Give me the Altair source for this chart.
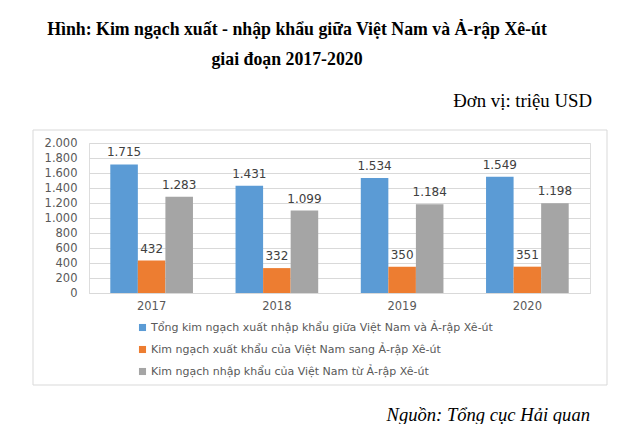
import altair as alt
import pandas as pd

years = ["2017", "2018", "2019", "2020"]
series = [
    "Tổng kim ngạch xuất nhập khẩu giữa Việt Nam và Ả-rập Xê-út",
    "Kim ngạch xuất khẩu của Việt Nam sang Ả-rập Xê-út",
    "Kim ngạch nhập khẩu của Việt Nam từ Ả-rập Xê-út",
]
total = [1715, 1431, 1534, 1549]
export = [432, 332, 350, 351]
imports = [1283, 1099, 1184, 1198]
colors = ["#5B9BD5", "#ED7D31", "#A5A5A5"]

rows = []
for i, y in enumerate(years):
    for s, vals in zip(series, [total, export, imports]):
        rows.append({"year": y, "series": s, "value": vals[i]})
df = pd.DataFrame(rows)

W, H = 501, 150
one = alt.Data(values=[{"k": 1}])
SANS = "DejaVu Sans"

box = alt.Chart(one).mark_rect(fillOpacity=0, stroke="#d9d9d9", strokeWidth=1).encode(
    x=alt.value(-56), x2=alt.value(518), y=alt.value(-13), y2=alt.value(242)
)

fmt = "replace(format(datum.value, ','), ',', '.')"

base = alt.Chart(df).encode(
    x=alt.X("year:N", sort=years, title=None,
            scale=alt.Scale(paddingInner=0.34, paddingOuter=0.17),
            axis=alt.Axis(labelAngle=0, ticks=False, domainColor="#d9d9d9",
                          labelColor="#595959", labelFontSize=11.5, labelFont=SANS,
                          labelPadding=7)),
    xOffset=alt.XOffset("series:N", sort=series, scale=alt.Scale(paddingInner=0, paddingOuter=0)),
    y=alt.Y("value:Q", title=None, scale=alt.Scale(domain=[0, 2000]),
            axis=alt.Axis(values=list(range(0, 2001, 200)), labelExpr=fmt, domain=False,
                          ticks=False, gridColor="#d9d9d9", labelColor="#595959",
                          labelFontSize=11.5, labelFont=SANS, labelPadding=12)),
)

bars = base.mark_bar().encode(
    color=alt.Color("series:N", sort=series,
                    scale=alt.Scale(domain=series, range=colors),
                    legend=alt.Legend(orient="none", legendX=48, legendY=179, title=None,
                                      symbolType="square", symbolSize=50, symbolStrokeWidth=0,
                                      labelFontSize=11, labelFont=SANS,
                                      labelColor="#595959", rowPadding=10, labelLimit=600,
                                      padding=0, labelOffset=3))
)

labels = base.transform_calculate(
    lab="replace(format(datum.value, ','), ',', '.')"
).mark_text(baseline="bottom", dy=-5, fontSize=12, font=SANS, color="#404040").encode(
    text="lab:N"
)

def txt(s, x, y, size, align="center", bold=False, italic=False):
    return alt.Chart(one).mark_text(
        text=s, align=align, baseline="middle", font="Liberation Serif", fontSize=size,
        fontWeight="bold" if bold else "normal", fontStyle="italic" if italic else "normal",
        color="black"
    ).encode(x=alt.value(x), y=alt.value(y))

t1 = txt("Hình: Kim ngạch xuất - nhập khẩu giữa Việt Nam và Ả-rập Xê-út", 208, -113, 17.8, bold=True)
t2 = txt("giai đoạn 2017-2020", 198, -83, 17.8, bold=True)
t3 = txt("Đơn vị: triệu USD", 503, -42, 18.8, align="right")
t4 = txt("Nguồn: Tổng cục Hải quan", 501, 272, 18.6, align="right", italic=True)

chart = alt.layer(box, bars, labels, t1, t2, t3, t4).properties(
    width=W, height=H,
    padding={"left": 81, "top": 135, "right": 43, "bottom": 131},
    autosize=alt.AutoSizeParams(type="none"),
).configure_view(stroke=None).configure(background="white")

chart.save("out.html", embed_options={"renderer": "svg", "actions": False})
